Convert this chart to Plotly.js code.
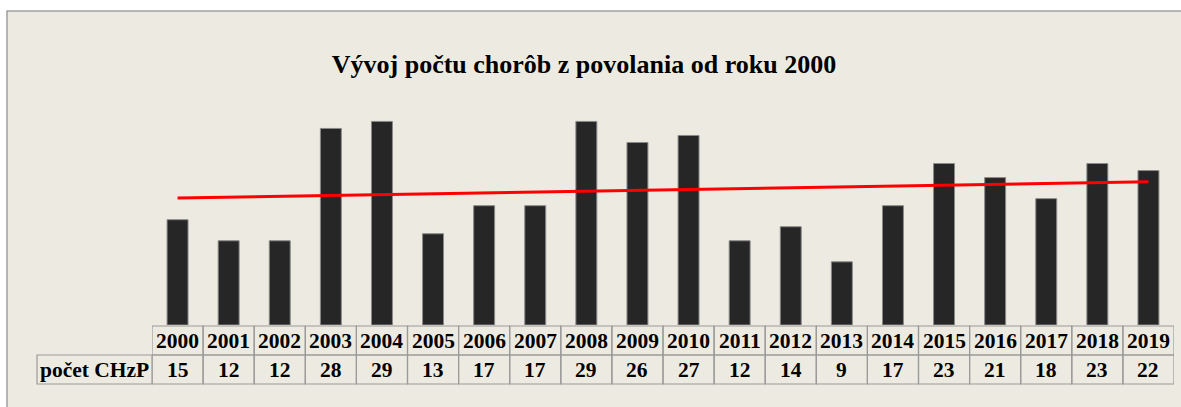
<!DOCTYPE html>
<html>
<head>
<meta charset="utf-8">
<script src="https://cdn.plot.ly/plotly-3.0.1.min.js"></script>
<style>html,body{margin:0;padding:0;background:#fff;}#chart{width:1181px;height:407px;}</style>
</head>
<body>
<div id="chart"></div>
<script>
const years = ["2000","2001","2002","2003","2004","2005","2006","2007","2008","2009","2010","2011","2012","2013","2014","2015","2016","2017","2018","2019"];
const counts = [15,12,12,28,29,13,17,17,29,26,27,12,14,9,17,23,21,18,23,22];
const trendYears = ["2000","2019"];
const trendValues = [18.1, 20.4];
const rowLabel = "počet CHzP";
const titleText = "Vývoj počtu chorôb z povolania od roku 2000";

const W = 1181, H = 407;
const mL = 152, mR = 7, mT = 44, mB = 82;
const plotH = H - mT - mB;
const py = p => (H - mB - p) / plotH; // pixel y -> paper y

const font = "Liberation Serif, Times New Roman, serif";
const border = "#9a9a9a";
const tSize = 21.5;
const shapes = [];
const annotations = [];

// chart area background
shapes.push({type:"rect", xref:"paper", yref:"paper", layer:"below",
  x0:(7-mL)/(W-mL-mR), x1:(W+5-mL)/(W-mL-mR), y0:py(H+5), y1:py(11),
  fillcolor:"#EDEBE1", line:{color:"#a0a0a0", width:1.5}});

// table
const rowTop = py(326), rowMid = py(355), rowBot = py(384);
years.forEach((y, i) => {
  shapes.push({type:"rect", xref:"x", yref:"paper", x0:i-0.5, x1:i+0.5, y0:rowMid, y1:rowTop,
    line:{color:border, width:1.2}, fillcolor:"rgba(0,0,0,0)"});
  shapes.push({type:"rect", xref:"x", yref:"paper", x0:i-0.5, x1:i+0.5, y0:rowBot, y1:rowMid,
    line:{color:border, width:1.2}, fillcolor:"rgba(0,0,0,0)"});
  annotations.push({xref:"x", yref:"paper", x:i, y:(rowTop+rowMid)/2, text:"<b>"+y+"</b>",
    showarrow:false, font:{family:font, size:tSize, color:"#000"}, xanchor:"center", yanchor:"middle"});
  annotations.push({xref:"x", yref:"paper", x:i, y:(rowMid+rowBot)/2, text:"<b>"+counts[i]+"</b>",
    showarrow:false, font:{family:font, size:tSize, color:"#000"}, xanchor:"center", yanchor:"middle"});
});
const labX0 = (37 - mL) / (W - mL - mR);
shapes.push({type:"rect", xref:"paper", yref:"paper", x0:labX0, x1:0, y0:rowBot, y1:rowMid,
  line:{color:border, width:1.2}, fillcolor:"rgba(0,0,0,0)"});
annotations.push({xref:"paper", yref:"paper", x:labX0/2, y:(rowMid+rowBot)/2, text:"<b>"+rowLabel+"</b>",
  showarrow:false, font:{family:font, size:tSize, color:"#000"}, xanchor:"center", yanchor:"middle"});

const data = [
  {type:"bar", x:years, y:counts, width:0.41,
   marker:{color:"#262626", line:{color:"#8a8a8a", width:1}}, hoverinfo:"x+y"},
  {type:"scatter", mode:"lines", x:trendYears, y:trendValues,
   line:{color:"#ff0000", width:3}, hoverinfo:"skip"}
];

const layout = {
  width:W, height:H,
  margin:{l:mL, r:mR, t:mT, b:mB},
  paper_bgcolor:"#ffffff", plot_bgcolor:"rgba(0,0,0,0)",
  showlegend:false,
  title:{text:"<b>"+titleText+"</b>", font:{family:font, size:26, color:"#000"},
    xref:"container", x:584/W, xanchor:"center", yref:"container", y:1-64/H, yanchor:"middle"},
  xaxis:{type:"category", range:[-0.5, 19.5], showticklabels:false, showgrid:false, zeroline:false,
    showline:false, ticks:""},
  yaxis:{range:[0, plotH/7.02], showticklabels:false, showgrid:false, zeroline:false, showline:false, ticks:""},
  shapes:shapes, annotations:annotations,
  bargap:0.59
};

Plotly.newPlot("chart", data, layout, {displayModeBar:false, staticPlot:true});
</script>
</body>
</html>
